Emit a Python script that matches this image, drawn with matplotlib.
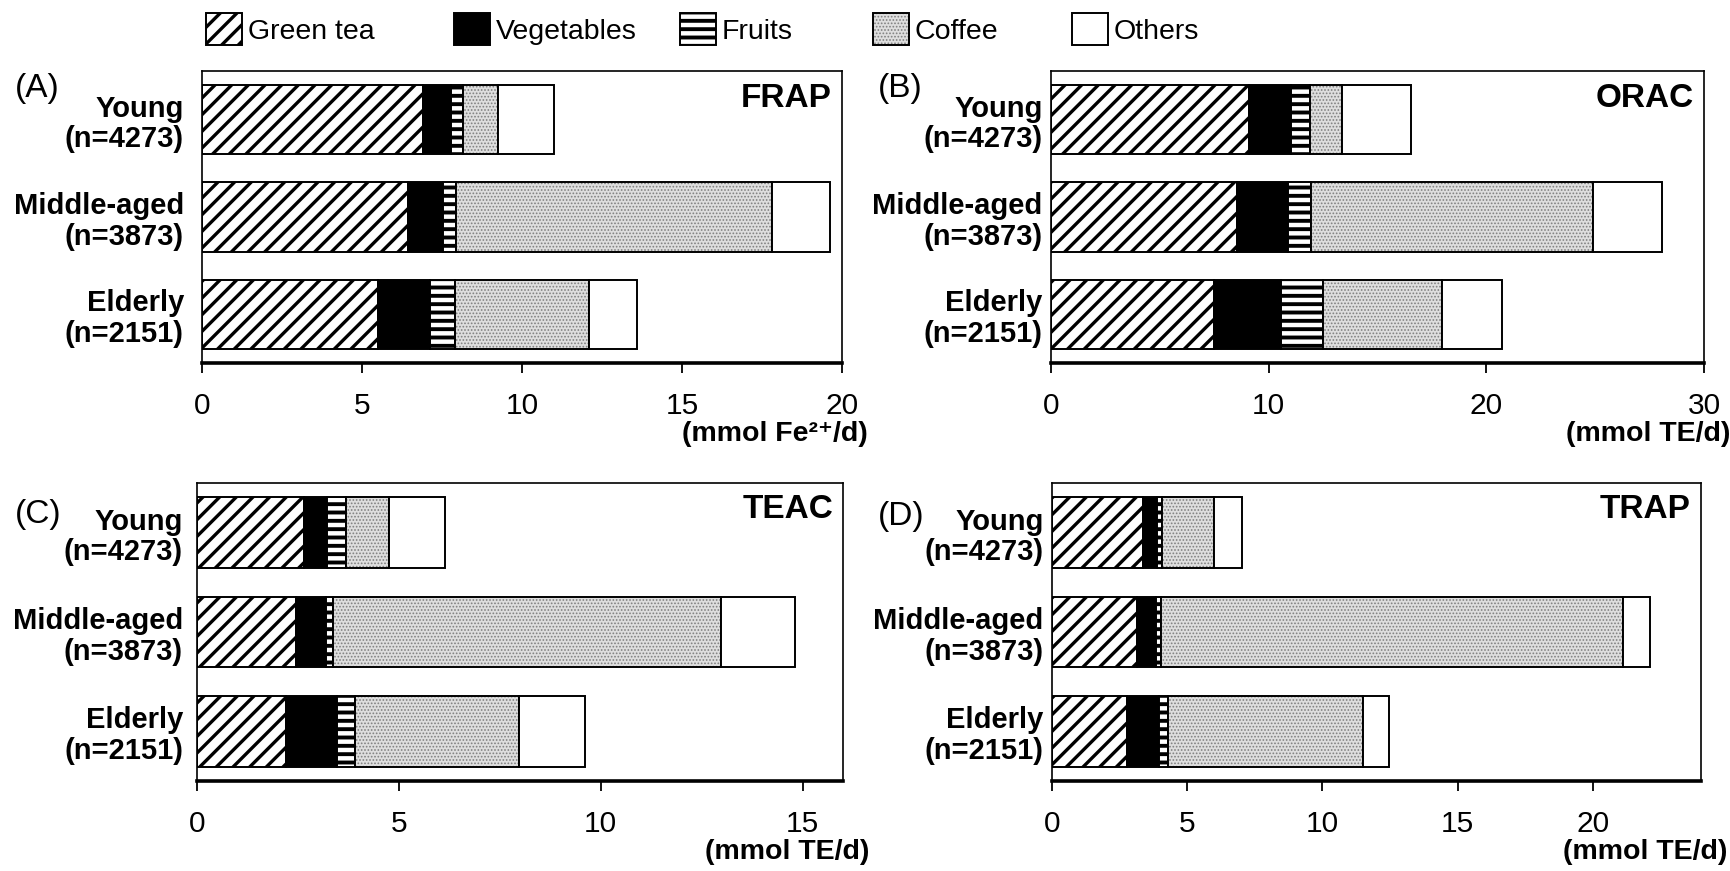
import matplotlib
matplotlib.use('Agg')
import matplotlib.pyplot as plt
import matplotlib.patches as mpatches
import numpy as np

plt.rcParams['font.family'] = ['Liberation Sans', 'DejaVu Sans']

# groups, top to bottom
groups = ['Young\n(n=4273)', 'Middle-aged\n(n=3873)', 'Elderly\n(n=2151)']
sources = ['Green tea', 'Vegetables', 'Fruits', 'Coffee', 'Others']

# contribution of each source, rows follow `sources`, columns follow `groups`
frap = [[6.91, 6.45, 5.49],
        [0.87, 1.07, 1.62],
        [0.37, 0.42, 0.79],
        [1.09, 9.86, 4.18],
        [1.76, 1.84, 1.52]]
orac = [[9.09, 8.53, 7.50],
        [1.93, 2.34, 3.06],
        [0.87, 1.07, 1.92],
        [1.47, 12.95, 5.48],
        [3.18, 3.19, 2.77]]
teac = [[2.65, 2.46, 2.21],
        [0.58, 0.74, 1.26],
        [0.47, 0.18, 0.45],
        [1.05, 9.60, 4.05],
        [1.40, 1.83, 1.63]]
trap = [[3.37, 3.14, 2.79],
        [0.53, 0.72, 1.17],
        [0.15, 0.16, 0.33],
        [1.95, 17.11, 7.21],
        [1.04, 0.98, 0.98]]

panels = [
    # data, title, letter, unit, xmax, xticks
    (frap, 'FRAP', '(A)', '(mmol Fe²⁺/d)', 20, [0, 5, 10, 15, 20]),
    (orac, 'ORAC', '(B)', '(mmol TE/d)', 30, [0, 10, 20, 30]),
    (teac, 'TEAC', '(C)', '(mmol TE/d)', 16, [0, 5, 10, 15]),
    (trap, 'TRAP', '(D)', '(mmol TE/d)', 24, [0, 5, 10, 15, 20]),
]

# fill colour, hatch, hatch colour, hatch width
styles = {
    'Green tea':  ('white', '//', 'black', 2.4),
    'Vegetables': ('black', None, 'black', 1.0),
    'Fruits':     ('white', '--', 'black', 2.8),
    'Coffee':     ('#dedede', '.....', '#808080', 0.8),
    'Others':     ('white', None, 'black', 1.0),
}

W, H = 1731, 871
fig = plt.figure(figsize=(W / 100, H / 100), dpi=100)

# axes boxes in pixels: left, top, right, bottom
boxes = [(202, 71, 842, 363), (1051, 71, 1704, 363),
         (197, 483, 843, 781), (1052, 483, 1701, 781)]
letter_pos = [(15, 89), (878, 89), (15, 514), (878, 516)]
label_pad = [13, 6, 10, 6]


def make_patch(src):
    fc, h, hc, hlw = styles[src]
    plt.rcParams['hatch.linewidth'] = hlw
    p = mpatches.Rectangle((0, 0), 1, 1, facecolor=fc, edgecolor=hc,
                           hatch=h, linewidth=0)
    if hasattr(p, 'set_hatch_linewidth'):
        p.set_hatch_linewidth(hlw)
    return p


y = np.arange(len(groups))
for (data, title, letter, unit, xmax, xticks), (l, t, r, b), (lx, ly), pad in zip(
        panels, boxes, letter_pos, label_pad):
    ax = fig.add_axes([l / W, 1 - b / H, (r - l) / W, (b - t) / H])
    left = np.zeros(len(groups))
    for src, vals in zip(sources, data):
        fc, h, hc, hlw = styles[src]
        plt.rcParams['hatch.linewidth'] = hlw
        bars = ax.barh(y, vals, left=left, height=0.71, color=fc,
                       edgecolor=hc, hatch=h, linewidth=0)
        for p in bars:
            if hasattr(p, 'set_hatch_linewidth'):
                p.set_hatch_linewidth(hlw)
        ax.barh(y, vals, left=left, height=0.71, fill=False,
                edgecolor='black', linewidth=1.4)
        left = left + np.array(vals)
    ax.set_xlim(0, xmax)
    ax.set_ylim(2.5, -0.5)
    ax.set_xticks(xticks)
    ax.set_xticklabels([str(v) for v in xticks], fontsize=21.5)
    ax.set_yticks(y)
    ax.set_yticklabels(groups, fontsize=21, fontweight='bold', linespacing=1.12)
    ax.tick_params(axis='x', direction='out', length=7, width=1.3, pad=14)
    ax.tick_params(axis='y', length=0, pad=pad)
    for s in ax.spines.values():
        s.set_linewidth(1.2)
    ax.spines['bottom'].set_linewidth(2.6)
    ax.text(1 - 10 / (r - l), 1 - 27 / (b - t), title, transform=ax.transAxes,
            ha='right', va='center', fontsize=24, fontweight='bold')
    fig.text(lx / W, 1 - ly / H, letter, fontsize=24, ha='left', va='center')
    fig.text((r + 26) / W, 1 - (b + 71) / H, unit, fontsize=20.5,
             fontweight='bold', ha='right', va='center')

# legend along the top, one entry at a time
legend_x = [206, 454, 680, 873, 1072]
for src, x0 in zip(sources, legend_x):
    fill = make_patch(src)
    edge = mpatches.Rectangle((0, 0), 1, 1, fill=False, edgecolor='black', linewidth=1.4)
    fig.legend(handles=[(fill, edge)], labels=[src], loc='center left',
               bbox_to_anchor=(x0 / W, 1 - 29 / H), frameon=False, fontsize=20.5,
               handlelength=1.26, handleheight=1.3, handletextpad=0.2,
               borderpad=0, borderaxespad=0)

fig.savefig('out.png', dpi=100)
